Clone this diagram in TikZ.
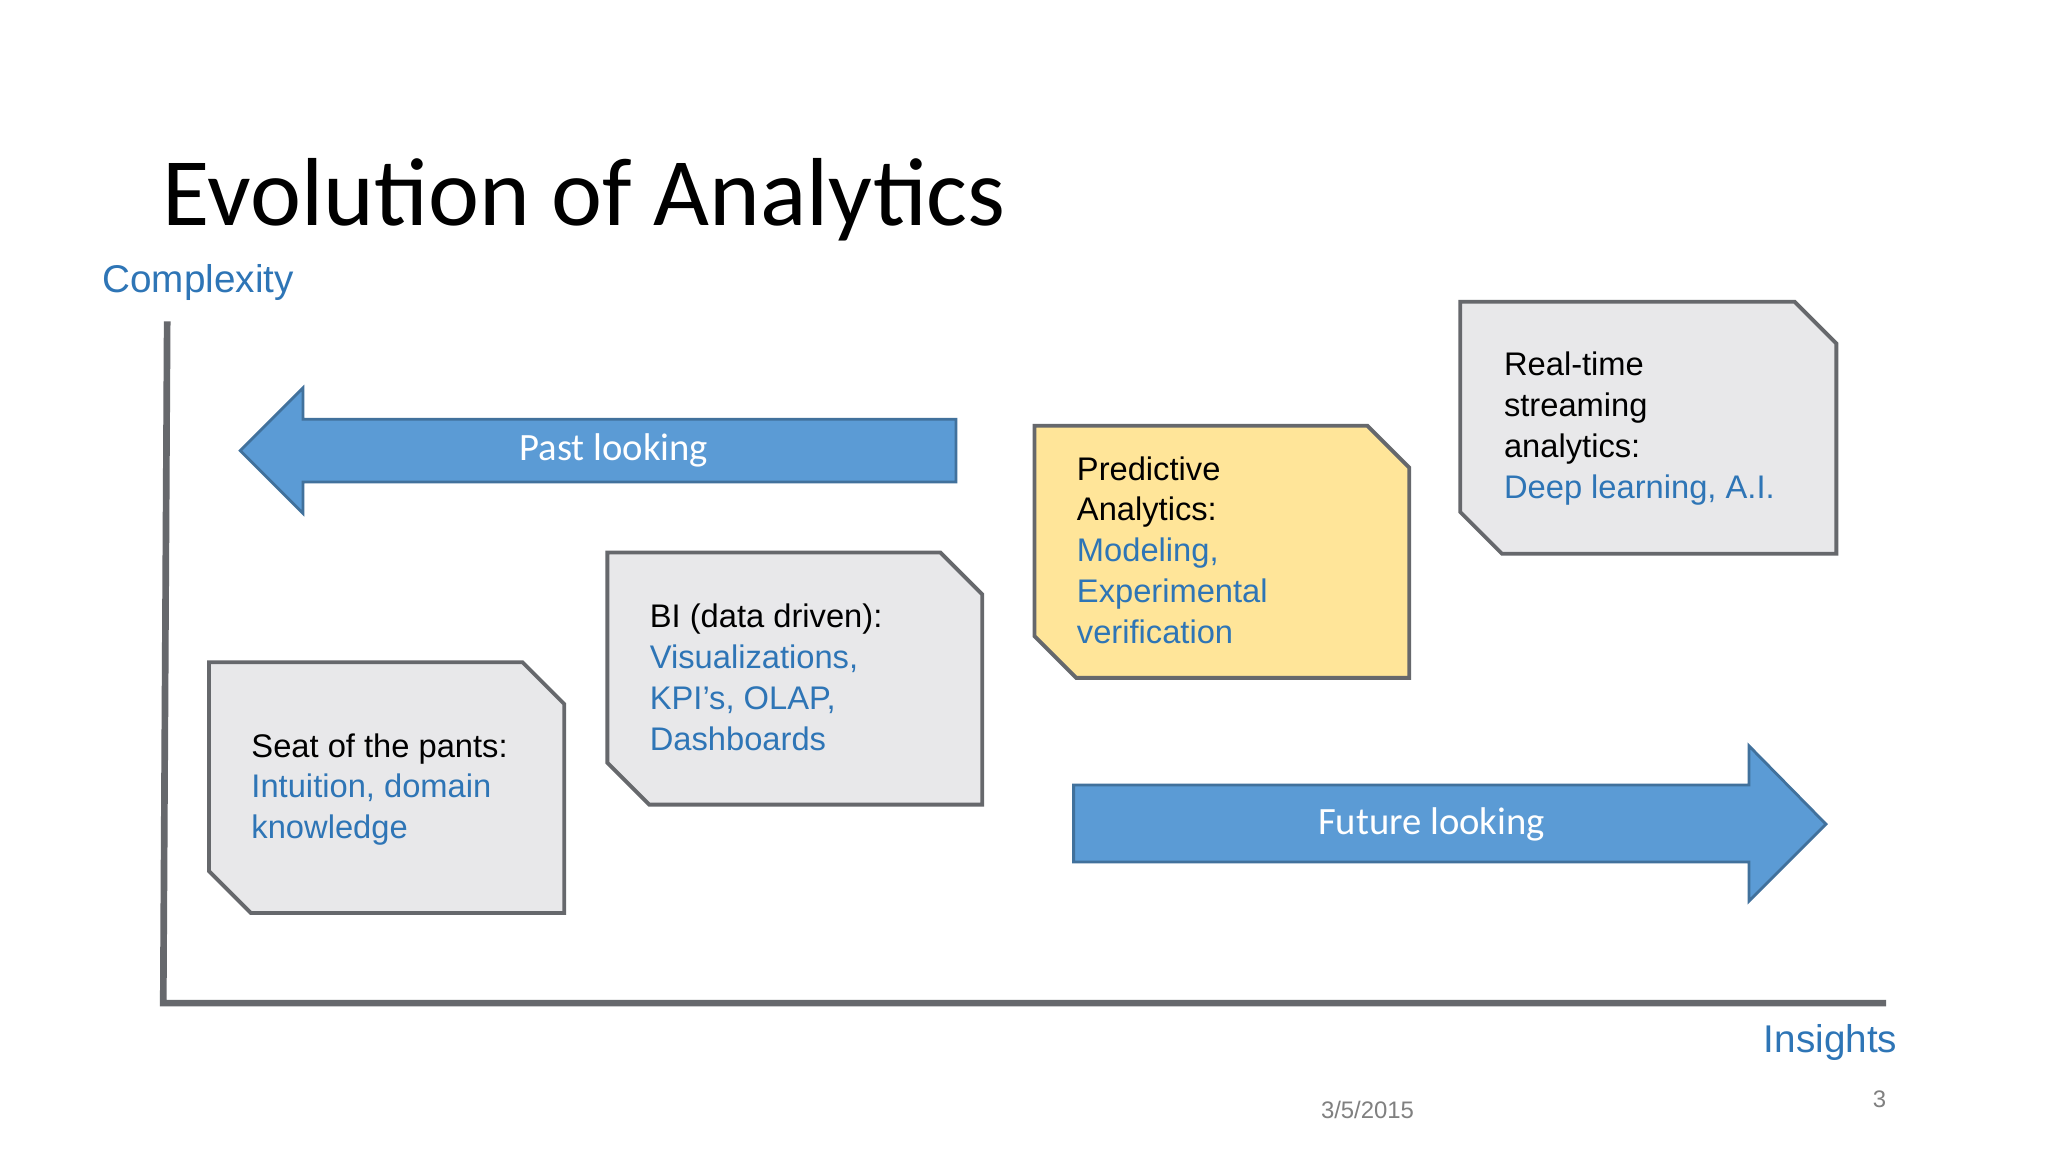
\documentclass[tikz,border=0pt]{standalone}
\usepackage{fontspec}
\setmainfont{Liberation Sans}
\newfontfamily\calfnt{Carlito}
\definecolor{bl}{HTML}{2E75B6}
\definecolor{gb}{HTML}{E8E8EA}
\definecolor{gd}{HTML}{66686C}
\definecolor{yl}{HTML}{FFE599}
\definecolor{ar}{HTML}{5B9BD5}
\definecolor{ard}{HTML}{41719C}
\begin{document}
\begin{tikzpicture}[x=0.01306cm,y=-0.01306cm,
  snip/.style={draw=gd,line width=1.1pt},
  arr/.style={fill=ar,draw=ard,line width=0.8pt},
  txt/.style={anchor=north west,align=left,inner sep=0pt,font=\fontsize{9.3}{11.6}\selectfont},
  atxt/.style={text=white,font=\calfnt\fontsize{11}{13}\selectfont}]
\useasboundingbox[fill=white] (0,0) rectangle (1568,882);
\node[anchor=base west,inner sep=0pt,font=\calfnt\fontsize{27.5}{30}\selectfont] (title) at (124,173) {Evolution of Analytics};
\node[anchor=base west,inner sep=0pt,text=bl,font=\fontsize{11}{13}\selectfont] (cx) at (78,224) {Complexity};
\node[anchor=base east,inner sep=0pt,text=bl,font=\fontsize{11}{13}\selectfont] (ins) at (1453,806) {Insights};
\node[anchor=base,inner sep=0pt,text=gray,font=\fontsize{6.8}{8}\selectfont] (date) at (1047,856) {3/5/2015};
\node[anchor=base,inner sep=0pt,text=gray,font=\fontsize{6.8}{8}\selectfont] (pg) at (1439,848) {3};
\coordinate (o) at (125,768);
\coordinate (ytop) at (128,246);
\coordinate (xend) at (1444,768);
\draw[gd,line width=1.9pt] (ytop) -- (o) -- (xend);
% arrows
\draw[arr] (732,321) -- (232,321) -- (232,297) -- (184,345) -- (232,393) -- (232,369) -- (732,369) -- cycle;
\node[atxt] (past) at (470,345) {Past looking};
\draw[arr] (822,601) -- (1339,601) -- (1339,571) -- (1398,631) -- (1339,690) -- (1339,660) -- (822,660) -- cycle;
\node[atxt] (fut) at (1096,631) {Future looking};
% boxes
\newcommand\snipbox[5]{\draw[snip,fill=#5] (#1,#3) -- (#2-32,#3) -- (#2,#3+32) -- (#2,#4) -- (#1+32,#4) -- (#1,#4-32) -- cycle;}
\snipbox{160}{432}{507}{699}{gb}
\snipbox{465}{752}{423}{616}{gb}
\snipbox{792}{1079}{326}{519}{yl}
\snipbox{1118}{1406}{231}{424}{gb}
\node[txt] (t1) at (192,561) {Seat of the pants:\\\textcolor{bl}{Intuition, domain}\\\textcolor{bl}{knowledge}};
\node[txt] (t2) at (497,462) {BI (data driven):\\\textcolor{bl}{Visualizations,}\\\textcolor{bl}{KPI’s, OLAP,}\\\textcolor{bl}{Dashboards}};
\node[txt] (t3) at (824,349) {Predictive\\Analytics:\\\textcolor{bl}{Modeling,}\\\textcolor{bl}{Experimental}\\\textcolor{bl}{verification}};
\node[txt] (t4) at (1151,269) {Real-time\\streaming\\analytics:\\\textcolor{bl}{Deep learning, A.I.}};
\end{tikzpicture}
\end{document}
